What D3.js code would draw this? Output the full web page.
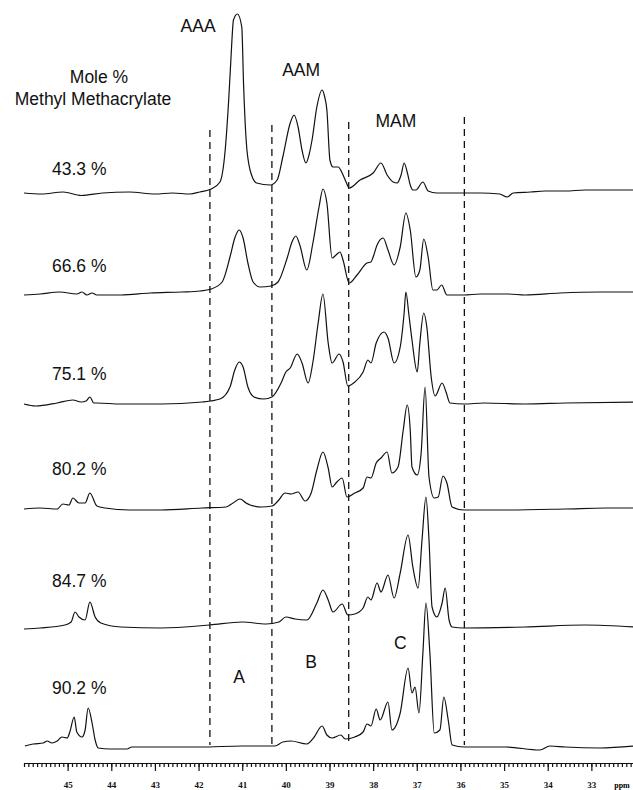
<!DOCTYPE html>
<html lang="en">
<head>
<meta charset="UTF-8">
<title>13C NMR - Mole % Methyl Methacrylate</title>
<script src="https://cdn.jsdelivr.net/npm/d3@7"></script>
<style>
  body { margin: 0; background: #fff; }
  .trace { fill: none; stroke: #111; stroke-width: 1.2; stroke-linejoin: round; }
  .divider { stroke: #111; stroke-width: 1.3; stroke-dasharray: 7,5; }
  .lbl { font-family: "Liberation Sans", Arial, sans-serif; font-size: 17.5px; fill: #111; }
  .axis path, .axis line { stroke: #111; stroke-width: 1.2; }
  .axis text { font-family: "Liberation Serif", serif; font-weight: bold; font-size: 9px; fill: #111; }
</style>
</head>
<body>
<div id="chart"></div>
<script>
// series labels (mole % MMA) and stacking offsets (intensity units)
var labels = ['43.3 %', '66.6 %', '75.1 %', '80.2 %', '84.7 %', '90.2 %'];
var offsets = [573, 473, 362, 257, 137, 20];

// [ppm, intensity above own baseline]
var spec433 = [[46.00,0],[45.60,-1],[45.10,1],[44.69,-2.5],[44.20,0],[43.59,1],[43.00,-1],[42.60,0],[42.20,-1],[41.97,1],[41.71,4],[41.51,11],
  [41.39,43],[41.31,93],[41.26,133],[41.20,173],[41.11,179],[41.01,166],[40.97,110],[40.91,53],[40.82,23],[40.67,10],[40.36,8],
  [40.20,13],[40.07,36],[39.90,70],[39.81,78],[39.72,66],[39.63,43],[39.54,30],[39.47,38],[39.40,53],[39.29,86],[39.17,103],
  [39.11,96],[39.06,83],[38.99,33],[38.92,26],[38.80,26],[38.71,20],[38.62,11],[38.55,5],[38.30,13],[38.00,20],[37.82,30],
  [37.68,18],[37.54,11],[37.45,10],[37.36,18],[37.29,30],[37.22,21],[37.15,8],[37.09,3],[37.02,3],[36.86,11],[36.74,2],
  [36.54,0],[35.92,0],[35.55,0],[35.10,-1],[34.93,-4],[34.79,0],[34.40,1],[34.06,2],[33.60,2],[33.15,3],[32.60,3],[32.00,3]];

var spec666 = [[46.00,-2],[45.63,-1],[45.18,1],[44.79,-1],[44.67,1],[44.56,-2],[44.44,0],[44.33,-2],[43.78,-2],[43.11,0],[42.38,1],
  [41.97,2],[41.71,4],[41.46,11],[41.28,36],[41.17,55],[41.07,63],[40.98,55],[40.87,30],[40.75,11],[40.59,6],[40.34,7],[40.18,11],
  [39.97,35],[39.86,51],[39.77,57],[39.68,48],[39.52,23],[39.38,50],[39.24,86],[39.15,104],[39.06,90],[38.94,35],[38.85,38],
  [38.76,41],[38.69,33],[38.55,10],[38.37,18],[38.14,30],[38.05,31],[38.00,36],[37.91,48],[37.77,55],[37.66,43],[37.52,28],
  [37.38,46],[37.25,80],[37.15,63],[37.02,16],[36.93,23],[36.84,54],[36.74,36],[36.63,3],[36.54,3],[36.43,8],[36.31,-2],
  [36.17,-2],[35.92,-2],[35.55,-1],[34.90,-1],[34.52,-2],[33.72,0],[32.80,1],[32.00,1]];

var spec751 = [[46.00,0],[45.73,-2],[45.24,1],[44.88,4],[44.69,2],[44.58,3],[44.49,7],[44.40,1],[44.33,1],[43.78,0],[42.86,0],
  [41.92,2],[41.51,5],[41.28,17],[41.17,34],[41.07,42],[40.98,37],[40.87,17],[40.73,7],[40.50,5],[40.32,7],[40.11,21],[40.00,32],
  [39.90,36],[39.74,50],[39.63,41],[39.49,21],[39.38,42],[39.26,81],[39.15,110],[39.03,61],[38.94,41],[38.78,50],[38.69,42],
  [38.58,18],[38.42,22],[38.23,32],[38.12,44],[38.05,41],[37.93,61],[37.75,72],[37.66,66],[37.52,41],[37.38,57],[37.29,91],
  [37.25,112],[37.18,89],[37.11,64],[36.99,32],[36.93,61],[36.84,91],[36.77,77],[36.67,27],[36.58,8],[36.42,21],[36.33,12],
  [36.24,1],[35.92,0],[35.46,1],[34.52,0],[33.60,1],[32.00,2]];

var spec802 = [[46.00,0],[45.63,1],[45.24,0],[45.11,5],[44.97,4],[44.88,11],[44.74,6],[44.60,6],[44.49,16],[44.33,3],[44.14,1],
  [43.59,-1],[42.86,-1],[41.92,1],[41.37,2],[41.21,6],[41.05,10],[40.91,6],[40.82,4],[40.55,2],[40.32,3],[40.16,9],[40.02,16],
  [39.88,15],[39.72,17],[39.56,8],[39.42,16],[39.29,39],[39.15,57],[39.03,41],[38.94,22],[38.83,27],[38.71,31],[38.60,12],
  [38.42,16],[38.23,21],[38.14,32],[38.05,31],[37.93,46],[37.82,51],[37.68,57],[37.57,36],[37.43,42],[37.31,79],[37.22,104],
  [37.15,79],[37.11,42],[36.99,34],[36.90,56],[36.81,122],[36.72,32],[36.60,11],[36.51,12],[36.40,33],[36.31,26],[36.19,2],
  [35.92,-1],[34.98,-1],[33.60,0],[32.66,1],[32.00,1]];

var spec847 = [[46.00,0],[45.63,1],[45.06,4],[44.92,7],[44.83,17],[44.74,12],[44.60,9],[44.49,27],[44.37,12],[44.24,6],[43.78,2],
  [42.86,1],[41.74,4],[41.00,7],[40.45,5],[40.16,7],[40.00,12],[39.79,10],[39.52,9],[39.29,26],[39.15,39],[39.03,29],[38.92,17],
  [38.71,25],[38.58,14],[38.42,15],[38.23,21],[38.12,32],[38.05,29],[37.91,46],[37.82,37],[37.66,54],[37.52,31],[37.38,56],
  [37.20,94],[37.09,62],[36.97,41],[36.88,89],[36.79,132],[36.72,89],[36.65,22],[36.54,12],[36.42,26],[36.35,41],[36.26,9],
  [36.19,2],[35.92,1],[34.52,2],[33.15,4],[32.00,2]];

var spec902 = [[45.98,0],[45.79,2],[45.56,3],[45.47,5],[45.36,3],[45.24,5],[45.13,9],[45.01,8],[44.95,14],[44.85,29],[44.79,14],
  [44.67,9],[44.60,16],[44.53,38],[44.44,23],[44.37,6],[44.30,-2],[44.03,-3],[43.64,-3],[43.53,-1],[43.11,-1],[41.97,-1],
  [41.00,0],[40.25,0],[40.07,4],[39.88,5],[39.52,2],[39.35,9],[39.17,20],[39.06,11],[38.94,8],[38.74,11],[38.64,7],[38.42,9],
  [38.23,14],[38.14,22],[38.05,20],[37.93,37],[37.84,26],[37.66,44],[37.57,16],[37.38,33],[37.20,78],[37.11,53],[37.04,59],
  [36.95,33],[36.86,93],[36.79,143],[36.70,93],[36.60,13],[36.47,16],[36.38,49],[36.28,26],[36.19,1],[35.92,-1],[34.98,-1],
  [34.18,-4],[33.95,0],[33.60,-1],[32.80,-2],[32.00,0]];

var spectra = [spec433, spec666, spec751, spec802, spec847, spec902];

// integration region boundaries (ppm) and annotations
var regionBounds = [41.74, 40.32, 38.56, 35.91];
var triads = ['AAA', 'AAM', 'MAM'];
var triadPpm = [42.01, 39.65, 37.48];
var regions = ['A', 'B', 'C'];
var regionPpm = [41.07, 39.42, 37.38];
var majorTicks = [45, 44, 43, 42, 41, 40, 39, 38, 37, 36, 35, 34, 33];

var width = 633, height = 790;

// layout (pixels)
var labelX = 52, labelY = [175, 272, 380, 475, 587, 694];
var boundTop = [130, 125, 122, 117], boundBottom = 745;
var triadY = [32, 76, 127], regionY = [683, 668, 649];
var axisY = 763;

var xScale = d3.scaleLinear().domain([46, 32]).range([24, 635]);
var yScale = d3.scaleLinear().domain([0, 760]).range([766, 6]);

var svg = d3.select('#chart')
    .append('svg')
    .attr('width', width)
    .attr('height', height);

// dashed region dividers
svg.selectAll('.divider')
    .data(regionBounds)
    .enter()
    .append('line')
    .attr('class', 'divider')
    .attr('x1', function(d){ return xScale(d) })
    .attr('x2', function(d){ return xScale(d) })
    .attr('y1', function(d, i){ return boundTop[i] })
    .attr('y2', boundBottom);

// stacked spectra
svg.selectAll('.trace')
    .data(spectra)
    .enter()
    .append('path')
    .attr('class', 'trace')
    .attr('d', function(s, i){
        var line = d3.line()
            .x(function(p){ return xScale(p[0]) })
            .y(function(p){ return yScale(offsets[i] + p[1]) })
            .curve(d3.curveMonotoneX);
        return line(s);
    });

// series labels
svg.selectAll('.serLbl')
    .data(labels)
    .enter()
    .append('text')
    .attr('class', 'lbl serLbl')
    .attr('x', labelX)
    .attr('y', function(d, i){ return labelY[i] })
    .text(function(d){ return d });

svg.append('text')
    .attr('class', 'lbl')
    .attr('x', 99).attr('y', 83)
    .attr('text-anchor', 'middle')
    .text('Mole %');
svg.append('text')
    .attr('class', 'lbl')
    .attr('x', 93).attr('y', 105)
    .attr('text-anchor', 'middle')
    .text('Methyl Methacrylate');

svg.selectAll('.triad')
    .data(triads)
    .enter()
    .append('text')
    .attr('class', 'lbl triad')
    .attr('x', function(d, i){ return xScale(triadPpm[i]) })
    .attr('y', function(d, i){ return triadY[i] })
    .attr('text-anchor', 'middle')
    .text(function(d){ return d });

svg.selectAll('.region')
    .data(regions)
    .enter()
    .append('text')
    .attr('class', 'lbl region')
    .attr('x', function(d, i){ return xScale(regionPpm[i]) })
    .attr('y', function(d, i){ return regionY[i] })
    .attr('text-anchor', 'middle')
    .text(function(d){ return d });

// ppm axis: minor ticks every 0.1, labelled integers
var minorAxis = d3.axisBottom(xScale)
    .ticks(140)
    .tickSize(4)
    .tickSizeOuter(0)
    .tickFormat('');
svg.append('g')
    .attr('class', 'axis')
    .attr('transform', 'translate(0,' + axisY + ')')
    .call(minorAxis);

var majorAxis = d3.axisBottom(xScale)
    .tickValues(majorTicks)
    .tickSize(8)
    .tickSizeOuter(0)
    .tickFormat(d3.format('d'));
var majorG = svg.append('g')
    .attr('class', 'axis')
    .attr('transform', 'translate(0,' + axisY + ')')
    .call(majorAxis);
majorG.select('.domain').remove();
majorG.selectAll('text').attr('y', 25).attr('dy', 0);

svg.append('text')
    .attr('x', 622).attr('y', 788)
    .attr('text-anchor', 'middle')
    .style('font-family', '"Liberation Serif", serif')
    .style('font-weight', 'bold')
    .style('font-size', '8px')
    .text('ppm');
</script>
</body>
</html>
